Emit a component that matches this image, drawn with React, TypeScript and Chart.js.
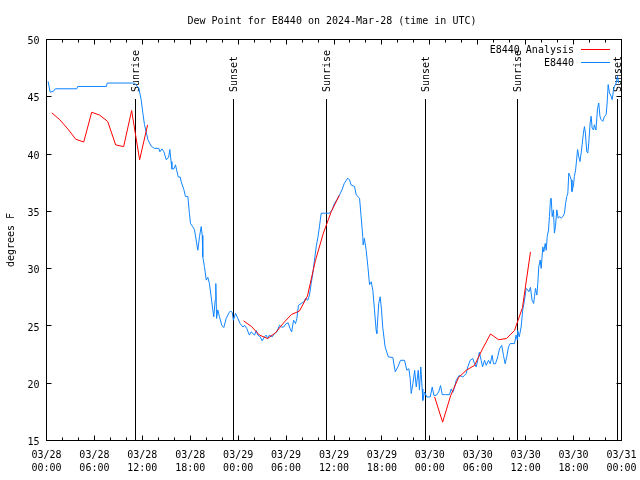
import React, { useEffect, useRef } from 'react';
import { Chart, registerables } from 'chart.js';

Chart.register(...registerables);

const TITLE = 'Dew Point for E8440 on 2024-Mar-28 (time in UTC)';
const Y_TITLE = 'degrees F';
const OBS_LABEL = 'E8440';
const ANALYSIS_LABEL = 'E8440 Analysis';

const X_MIN = 0;
const X_MAX = 72;
const X_MAJOR_STEP = 6;
const X_MINOR_STEP = 2;
const Y_MIN = 15;
const Y_MAX = 50;
const Y_STEP = 5;

const X_TICK_DATES = ['03/28', '03/28', '03/28', '03/28', '03/29', '03/29', '03/29', '03/29', '03/30', '03/30', '03/30', '03/30', '03/31'];
const X_TICK_TIMES = ['00:00', '06:00', '12:00', '18:00', '00:00', '06:00', '12:00', '18:00', '00:00', '06:00', '12:00', '18:00', '00:00'];

// hours since 2024-03-28 00:00 UTC
const OBS_HOURS = [
  0.2, 0.46, 0.9, 1.1, 3.8, 3.9, 7.5, 7.6, 10.8, 11.0, 11.56, 11.85, 12.06, 12.27, 12.7, 13.1, 13.5, 14.06, 14.2, 14.45,
  14.7, 15.0, 15.3, 15.44, 15.6, 15.7, 15.95, 16.15, 16.3, 16.5, 16.74, 16.86, 17.2, 17.4, 17.7, 17.9, 18.03, 18.3, 18.53, 18.74,
  18.95, 19.16, 19.37, 19.5, 19.57, 19.78, 20.0, 20.2, 20.4, 20.62, 20.82, 20.95, 21.12, 21.2, 21.3, 21.45, 21.66, 21.95, 22.2, 22.5,
  22.9, 23.04, 23.25, 23.4, 23.67, 23.96, 24.25, 24.6, 24.8, 25.08, 25.4, 25.63, 26.05, 26.26, 26.46, 26.76, 27.0, 27.3, 27.5, 27.7,
  27.9, 28.26, 28.55, 28.84, 29.18, 29.43, 29.68, 30.0, 30.26, 30.5, 30.7, 30.93, 31.18, 31.35, 31.55, 31.9, 32.23, 32.43, 32.72, 32.93,
  33.14, 33.35, 33.56, 33.77, 34.0, 34.2, 34.4, 34.94, 35.44, 35.77, 36.06, 36.35, 36.7, 37.0, 37.3, 37.73, 37.94, 38.15, 38.57, 38.78,
  39.2, 39.4, 39.6, 39.65, 39.8, 40.03, 40.24, 40.45, 40.66, 40.86, 41.07, 41.28, 41.36, 41.6, 41.78, 41.95, 42.1, 42.4, 42.8, 43.37,
  43.67, 44.0, 44.33, 44.83, 45.12, 45.37, 45.54, 45.67, 45.88, 46.1, 46.3, 46.55, 46.7, 46.87, 47.04, 47.12, 47.33, 47.62, 48.05, 48.3,
  48.5, 48.8, 49.1, 49.34, 49.55, 49.96, 50.46, 50.67, 50.88, 51.1, 51.3, 51.7, 52.13, 52.55, 52.75, 53.05, 53.38, 53.6, 53.8, 54.0,
  54.2, 54.43, 54.6, 54.85, 55.06, 55.35, 55.56, 55.8, 55.97, 56.22, 56.5, 56.72, 57.0, 57.22, 57.43, 57.63, 57.85, 58.06, 58.6, 58.8,
  58.93, 59.0, 59.2, 59.43, 59.64, 59.85, 60.07, 60.27, 60.4, 60.6, 60.8, 61.0, 61.1, 61.23, 61.4, 61.52, 61.64, 61.82, 61.94, 62.15,
  62.27, 62.45, 62.57, 62.7, 62.86, 62.98, 63.1, 63.2, 63.32, 63.48, 63.6, 63.73, 63.9, 64.07, 64.24, 64.45, 64.66, 64.86, 65.0, 65.15,
  65.28, 65.4, 65.58, 65.7, 65.8, 65.99, 66.1, 66.25, 66.4, 66.5, 66.64, 66.8, 66.95, 67.07, 67.23, 67.36, 67.48, 67.65, 67.78, 67.9,
  68.07, 68.2, 68.32, 68.5, 68.6, 68.8, 69.0, 69.15, 69.3, 69.45, 69.66, 69.87, 70.08, 70.2, 70.33, 70.5, 70.7, 70.83, 71.0, 71.1,
  71.33, 71.5, 71.64,
];
const OBS_DEWPT = [
  46.35, 45.4, 45.5, 45.7, 45.7, 45.9, 45.9, 46.2, 46.2, 46.2, 45.77, 44.75, 43.6, 42.56, 41.25, 40.7, 40.5, 40.5, 40.2, 40.45,
  40.2, 39.5, 39.74, 40.4, 39.35, 38.7, 38.7, 39.06, 38.6, 38.0, 38.0, 37.6, 36.9, 36.3, 36.3, 34.8, 33.96, 33.67, 33.4, 32.5,
  31.6, 32.8, 33.67, 32.9, 31.04, 30.17, 29.0, 29.24, 28.7, 27.54, 26.4, 25.8, 27.25, 28.7, 25.65, 26.4, 25.8, 25.06, 24.86, 25.65,
  26.2, 26.3, 26.2, 25.5, 26.1, 25.65, 25.2, 24.9, 25.06, 24.77, 24.2, 24.48, 24.2, 24.6, 24.2, 24.05, 23.7, 24.05, 24.2, 23.9,
  24.2, 24.05, 24.34, 24.48, 25.06, 24.9, 24.9, 25.2, 25.27, 24.77, 24.48, 25.5, 25.2, 25.65, 26.8, 26.96, 27.1, 27.4, 27.25, 27.69,
  28.7, 29.6, 30.75, 31.9, 32.8, 33.8, 34.84, 34.84, 34.84, 35.13, 35.7, 36.0, 36.44, 36.88, 37.46, 37.9, 37.75, 37.3, 37.17, 36.44,
  36.15, 34.5, 32.8, 32.06, 32.65, 31.6, 30.2, 28.6, 28.85, 28.13, 26.4, 24.6, 24.34, 26.96, 27.54, 26.4, 24.9, 23.17, 22.3, 22.24,
  21.0, 21.42, 22.0, 22.0, 21.13, 21.27, 20.4, 19.1, 19.96, 21.13, 19.67, 21.13, 19.4, 21.42, 19.5, 18.5, 19.23, 18.8, 18.8, 19.67,
  18.94, 18.94, 19.23, 19.8, 19.0, 19.0, 19.0, 19.5, 19.2, 19.67, 20.25, 20.7, 20.54, 20.84, 21.42, 22.0, 22.15, 21.7, 21.42, 22.0,
  22.7, 22.0, 21.42, 22.0, 21.56, 22.0, 21.7, 22.44, 21.7, 21.7, 22.3, 23.0, 23.3, 22.44, 21.7, 22.3, 23.17, 23.46, 23.46, 24.2,
  23.8, 24.6, 24.05, 24.9, 26.4, 27.25, 28.28, 28.13, 27.98, 28.36, 27.25, 26.96, 27.54, 28.28, 27.69, 28.7, 30.17, 30.75, 30.02, 31.9,
  31.46, 32.2, 31.6, 32.8, 33.37, 34.54, 36.0, 36.15, 34.54, 35.13, 33.1, 33.67, 35.13, 34.4, 34.54, 34.4, 34.54, 34.84, 35.7, 36.3,
  36.59, 38.34, 38.05, 37.75, 36.73, 37.3, 38.05, 38.6, 39.65, 40.4, 39.8, 39.35, 40.1, 40.8, 41.83, 42.4, 41.83, 40.2, 40.1, 40.95,
  42.7, 43.3, 42.27, 42.1, 42.56, 42.1, 44.0, 44.46, 43.3, 43.0, 42.85, 43.3, 43.44, 44.46, 46.06, 45.34, 45.04, 44.75, 45.6, 45.9,
  46.2, 46.8, 46.2,
];

// hourly analysis values; null breaks the line between runs
const ANALYSIS_HOURS = [
  0.66, 1.66, 2.66, 3.66, 4.66, 5.66, 6.66, 7.66, 8.66, 9.66, 10.66, 11.66, 12.66,
  18.0,
  24.67, 25.67, 26.67, 27.67, 28.67, 29.67, 30.67, 31.67, 32.67, 33.67, 34.67, 35.67, 36.67,
  42.0,
  48.6, 49.6, 50.6, 51.6, 52.6, 53.6, 54.6, 55.6, 56.6, 57.6, 58.6, 59.6, 60.6,
];
const ANALYSIS_DEWPT = [
  43.6, 43.0, 42.2, 41.3, 41.05, 43.65, 43.4, 42.85, 40.8, 40.65, 43.8, 39.5, 42.55,
  null,
  25.44, 24.95, 24.2, 23.9, 24.4, 25.25, 26.0, 26.3, 27.6, 30.7, 33.1, 35.0, 36.4,
  null,
  18.8, 16.6, 18.9, 20.5, 21.15, 21.56, 23.0, 24.3, 23.8, 23.9, 24.6, 26.6, 31.46,
];

const SUN_HOURS = [11.1, 23.37, 35.02, 47.41, 58.93, 71.45];
const SUN_LABELS = ['Sunrise', 'Sunset', 'Sunrise', 'Sunset', 'Sunrise', 'Sunset'];

const FONT_FAMILY = "'DejaVu Sans Mono', monospace";
const RED = '#ff0000';
const BLUE = '#1084ff';

const crisp = (v: number) => Math.round(v - 0.5) + 0.5;

const decorPlugin = {
  id: 'decor',
  beforeDatasetsDraw(chart: any) {
    const { ctx, chartArea: a, scales } = chart;
    const x = scales.x;
    ctx.save();
    ctx.strokeStyle = '#000';
    ctx.lineWidth = 1;
    ctx.beginPath();
    SUN_HOURS.forEach((h) => {
      const px = crisp(x.getPixelForValue(h));
      ctx.moveTo(px, 99);
      ctx.lineTo(px, a.bottom);
    });
    ctx.stroke();
    ctx.fillStyle = '#000';
    ctx.font = `10px ${FONT_FAMILY}`;
    ctx.textAlign = 'left';
    ctx.textBaseline = 'middle';
    SUN_HOURS.forEach((h, i) => {
      const px = crisp(x.getPixelForValue(h));
      ctx.save();
      ctx.translate(px + 0.5, 92);
      ctx.rotate(-Math.PI / 2);
      ctx.fillText(SUN_LABELS[i], 0, 0);
      ctx.restore();
    });
    ctx.restore();
  },
  afterDatasetsDraw(chart: any) {
    const { ctx, chartArea: a, scales } = chart;
    const x = scales.x;
    const y = scales.y;
    ctx.save();
    ctx.strokeStyle = '#000';
    ctx.lineWidth = 1;
    ctx.strokeRect(a.left, a.top, a.right - a.left, a.bottom - a.top);
    ctx.beginPath();
    for (let h = X_MIN; h <= X_MAX; h += X_MINOR_STEP) {
      const px = crisp(x.getPixelForValue(h));
      const len = h % X_MAJOR_STEP === 0 ? 5 : 3;
      ctx.moveTo(px, a.bottom);
      ctx.lineTo(px, a.bottom - len);
      ctx.moveTo(px, a.top);
      ctx.lineTo(px, a.top + len);
    }
    y.ticks.forEach((t: any) => {
      const py = crisp(y.getPixelForValue(t.value));
      ctx.moveTo(a.left, py);
      ctx.lineTo(a.left + 5, py);
      ctx.moveTo(a.right, py);
      ctx.lineTo(a.right - 5, py);
    });
    ctx.stroke();

    // title
    ctx.fillStyle = '#000';
    ctx.font = `10px ${FONT_FAMILY}`;
    ctx.textAlign = 'center';
    ctx.textBaseline = 'alphabetic';
    ctx.fillText(TITLE, 332, 24);

    // legend
    ctx.textAlign = 'right';
    ctx.textBaseline = 'middle';
    chart.data.datasets.forEach((ds: any, i: number) => {
      const ly = 50 + i * 13;
      ctx.fillStyle = '#000';
      ctx.fillText(ds.label, 574, ly);
      ctx.strokeStyle = ds.borderColor;
      ctx.beginPath();
      ctx.moveTo(581, ly - 0.5);
      ctx.lineTo(610, ly - 0.5);
      ctx.stroke();
    });
    ctx.restore();
  },
};

export default function App() {
  const canvasRef = useRef<HTMLCanvasElement | null>(null);

  useEffect(() => {
    if (!canvasRef.current) return;
    const chart = new Chart(canvasRef.current, {
      type: 'line',
      data: {
        datasets: [
          {
            label: ANALYSIS_LABEL,
            data: ANALYSIS_HOURS.map((h, i) => ({ x: h, y: ANALYSIS_DEWPT[i] })) as any,
            borderColor: RED,
            borderWidth: 1,
            pointRadius: 0,
            tension: 0,
            spanGaps: false,
            fill: false,
          },
          {
            label: OBS_LABEL,
            data: OBS_HOURS.map((h, i) => ({ x: h, y: OBS_DEWPT[i] })),
            borderColor: BLUE,
            borderWidth: 1,
            pointRadius: 0,
            tension: 0,
            fill: false,
          },
        ],
      },
      options: {
        animation: false,
        responsive: false,
        devicePixelRatio: 1,
        layout: { padding: { top: 39.5, right: 18.5, left: 0, bottom: 0 } },
        plugins: {
          legend: { display: false },
          title: { display: false },
          tooltip: { enabled: false },
        },
        scales: {
          x: {
            type: 'linear',
            min: X_MIN,
            max: X_MAX,
            grid: { display: false, drawTicks: false },
            border: { display: false },
            afterFit: (scale: any) => {
              scale.height = 39.5;
              scale.paddingLeft = 0;
              scale.paddingRight = 0;
            },
            ticks: {
              stepSize: X_MAJOR_STEP,
              autoSkip: false,
              maxRotation: 0,
              minRotation: 0,
              padding: 8,
              color: '#000',
              font: { family: FONT_FAMILY, size: 10, lineHeight: 1.3 },
              callback: (_v: any, i: number) => [X_TICK_DATES[i], X_TICK_TIMES[i]],
            },
          },
          y: {
            type: 'linear',
            min: Y_MIN,
            max: Y_MAX,
            grid: { display: false, drawTicks: false },
            border: { display: false },
            afterFit: (scale: any) => {
              scale.width = 46.5;
              scale.paddingTop = 0;
              scale.paddingBottom = 0;
            },
            title: {
              display: true,
              text: Y_TITLE,
              color: '#000',
              font: { family: FONT_FAMILY, size: 10 },
              padding: { top: 5, bottom: 0 },
            },
            ticks: {
              stepSize: Y_STEP,
              padding: 7,
              labelOffset: 2,
              color: '#000',
              font: { family: FONT_FAMILY, size: 10 },
            },
          },
        },
      },
      plugins: [decorPlugin],
    });
    return () => chart.destroy();
  }, []);

  return (
    <div style={{ position: 'absolute', left: 0, top: 0, width: 640, height: 480, background: '#fff' }}>
      <canvas ref={canvasRef} width={640} height={480} style={{ display: 'block' }} />
    </div>
  );
}
